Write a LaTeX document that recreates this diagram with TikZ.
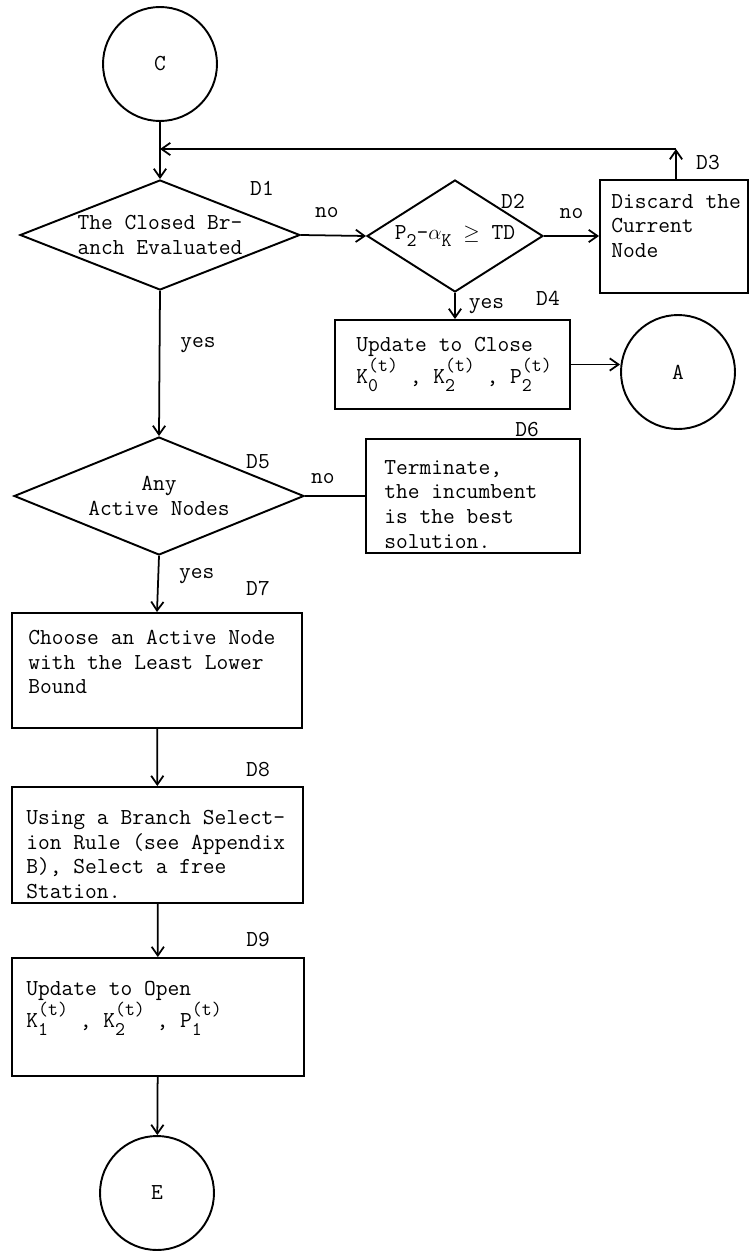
\documentclass[tikz,border=0pt]{standalone}
\usepackage{fontspec}
\usetikzlibrary{shapes.geometric,arrows.meta}
\newcommand{\scr}[1]{\mbox{\fontsize{11}{11}\selectfont #1}}
\newcommand{\lowered}[1]{\raisebox{-4.5pt}{\scr{#1}}}
\newcommand{\subsup}[2]{\rlap{\lowered{#1}}\raisebox{6.5pt}{\scr{#2}}}
\tikzset{
  every node/.style={font=\ttfamily\fontsize{13}{14}\selectfont},
  decision/.style={draw, diamond, line width=1.1pt, inner sep=0pt},
  process/.style={draw, rectangle, line width=1.1pt, inner sep=0pt},
  terminal/.style={draw, circle, line width=1.1pt, inner sep=0pt, minimum size=2.28cm},
  boxtext/.style={anchor=north west, align=left, inner sep=0pt},
  flow/.style={line width=1pt},
  >={Straight Barb[length=5pt,width=7pt]},
}
\begin{document}
\begin{tikzpicture}[x=0.02cm, y=-0.02cm]
    \useasboundingbox (0,0) rectangle (750,1251);

    \node[terminal] (c) at (160,64) {C};
    \coordinate (merge) at (160,149);
    \coordinate (loop) at (676,149);

    \node[decision, minimum width=5.6cm, minimum height=2.2cm] (d1) at (160,235) {};
    \node[align=center, inner sep=0pt] (d1txt) at (d1) {The Closed Br-\\anch Evaluated};
    \node[decision, minimum width=3.52cm, minimum height=2.24cm] (d2) at (455,236) {};
    \node[inner sep=0pt] (d2txt) at (d2) {P\lowered{2}-$\alpha$\lowered{K} $\geq$ TD};
    \node[process, minimum width=2.96cm, minimum height=2.26cm] (d3) at (674,236.5) {};
    \node[boxtext] (d3txt) at ([shift={(12,15)}]d3.north west) {Discard the\\Current\\Node};
    \node[process, minimum width=4.7cm, minimum height=1.78cm] (d4) at (452.5,364.5) {};
    \node[boxtext] (d4txt) at ([shift={(22,18)}]d4.north west) {Update to Close\\K\subsup{0}{(t)} , K\subsup{2}{(t)} , P\subsup{2}{(t)}};
    \node[terminal] (a) at (678,372) {A};

    \node[decision, minimum width=5.8cm, minimum height=2.36cm] (d5) at (159,496) {};
    \node[align=center, inner sep=0pt] (d5txt) at (d5) {Any\\Active Nodes};
    \node[process, minimum width=4.28cm, minimum height=2.28cm] (d6) at (473,496) {};
    \node[boxtext] (d6txt) at ([shift={(19,22)}]d6.north west) {Terminate,\\the incumbent\\is the best\\solution.};

    \node[process, minimum width=5.8cm, minimum height=2.3cm] (d7) at (157,670.5) {};
    \node[boxtext] (d7txt) at ([shift={(17,18)}]d7.north west) {Choose an Active Node\\with the Least Lower\\Bound};
    \node[process, minimum width=5.82cm, minimum height=2.32cm] (d8) at (157.5,845) {};
    \node[boxtext] (d8txt) at ([shift={(15,24)}]d8.north west) {Using a Branch Select-\\ion Rule (see Appendix\\B), Select a free\\Station.};
    \node[process, minimum width=5.84cm, minimum height=2.36cm] (d9) at (158,1017) {};
    \node[boxtext] (d9txt) at ([shift={(15,24)}]d9.north west) {Update to Open\\K\subsup{1}{(t)} , K\subsup{2}{(t)} , P\subsup{1}{(t)}};
    \node[terminal] (e) at (157,1193) {E};

    % step labels
    \node (l1) at (262,188) {D1};
    \node (l2) at (513,201) {D2};
    \node (l3) at (708,163) {D3};
    \node (l4) at (548,298) {D4};
    \node (l5) at (258,462) {D5};
    \node (l6) at (527,430) {D6};
    \node (l7) at (258,588) {D7};
    \node (l8) at (258,770) {D8};
    \node (l9) at (258,940) {D9};

    \draw[flow] (c) -- (merge);
    \draw[flow, ->] (merge) -- (d1.north);
    \draw[flow, ->] (d3.north -| loop) -- (loop);
    \draw[flow, ->] (loop) -- (merge);

    \draw[flow, ->] (d1.east) -- (d2.west) node[pos=0.4, above=6pt] {no};
    \draw[flow, ->] (d2.east) -- (d2.east -| d3.west) node[midway, above=6pt] {no};
    \draw[flow, ->] (d2.south) -- (d2.south |- d4.north) node[midway, right=4pt] {yes};
    \draw[flow, ->] (d4.east) -- (d4.east -| a.west);
    \draw[flow, ->] (d1.south) -- (d5.north) node[pos=0.37, right=8pt] {yes};
    \draw[flow] (d5.east) -- (d5.east -| d6.west) node[pos=0.3, above=3pt] {no};
    \draw[flow, ->] (d5.south) -- (d7.north) node[pos=0.35, right=8pt] {yes};
    \draw[flow, ->] (d7) -- (d8);
    \draw[flow, ->] (d8) -- (d9);
    \draw[flow, ->] (d9) -- (e);
\end{tikzpicture}
\end{document}
